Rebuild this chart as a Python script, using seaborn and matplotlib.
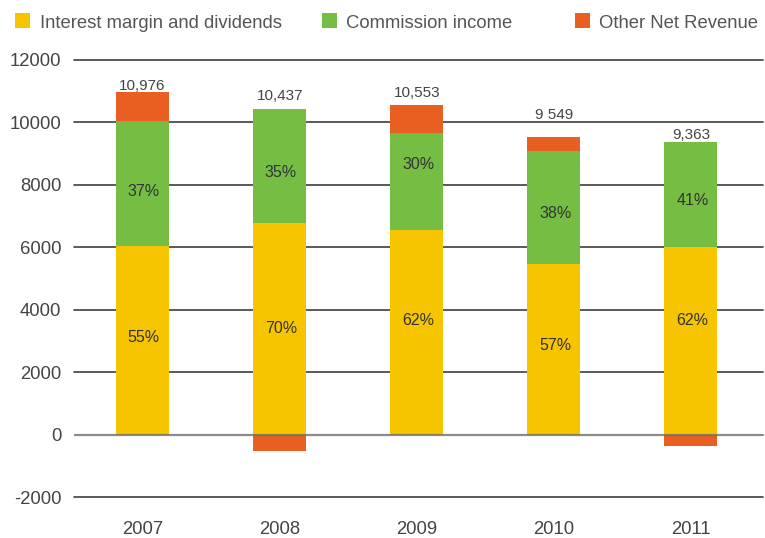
import matplotlib
matplotlib.use("Agg")
import matplotlib.pyplot as plt
from matplotlib.patches import Rectangle
import seaborn as sns
import pandas as pd

# Revenue breakdown by year
years = ["2007", "2008", "2009", "2010", "2011"]
interest = [6030, 6780, 6545, 5465, 6000]
commission = [4010, 3657, 3110, 3615, 3363]
other = [936, -535, 898, 469, -355]

total_labels = ["10,976", "10,437", "10,553", "9 549", "9,363"]
commission_pct = ["37%", "35%", "30%", "38%", "41%"]
interest_pct = ["55%", "70%", "62%", "57%", "62%"]

series_names = ["Interest margin and dividends", "Commission income", "Other Net Revenue"]
colors = ["#F6C500", "#76BE43", "#E85F21"]

# label placement (data units)
total_label_y = [11035, 10715, 10821, 10115, 9464]
commission_pct_y = [7650, 8261, 8510, 6924, 7364]
interest_pct_y = [2968, 3266, 3513, 2711, 3513]

sns.set_style("white")
plt.rcParams["font.family"] = ["Liberation Sans", "DejaVu Sans"]

W, H = 765, 538
fig = plt.figure(figsize=(W / 100, H / 100), dpi=100)
ax = fig.add_axes([74 / W, 1 - 497 / H, (W - 74) / W, (497 - 60) / H])

df = pd.DataFrame({"year": years, "interest": interest,
                   "commission": commission, "other": other})
# stacked layers drawn back to front: top of the stack first
df["top"] = [i + c + o if o > 0 else o for i, c, o in zip(interest, commission, other)]
df["mid"] = df["interest"] + df["commission"]

bar_w = 53 / 137.1
for col, color in [("top", colors[2]), ("mid", colors[1]), ("interest", colors[0])]:
    sns.barplot(data=df, x="year", y=col, color=color, saturation=1,
                width=bar_w, errorbar=None, linewidth=0, ax=ax, zorder=2)

yticks = list(range(-2000, 12001, 2000))
for y in yticks:
    if y == 0:
        continue
    ax.axhline(y, color="#4d4d4d", lw=1.3, zorder=0.5, clip_on=False,
               xmax=(763 - 74) / (W - 74))
ax.axhline(0, color="#6e6e6e", lw=1.6, alpha=0.8, zorder=3,
           xmax=(763 - 74) / (W - 74))

ax.set_ylim(-2000, 12000)
ax.set_xlim(-0.5, (W - 142.5) / 137.1)
ax.set_yticks(yticks)
ax.set_yticklabels([str(y) for y in yticks])
ax.set_xlabel("")
ax.set_ylabel("")
for s in ax.spines.values():
    s.set_visible(False)
ax.tick_params(axis="y", length=0, pad=9, labelsize=13.3, labelcolor="#444444")
ax.tick_params(axis="x", length=0, pad=17, labelsize=13.3, labelcolor="#444444")

for i in range(len(years)):
    ax.text(i, total_label_y[i], total_labels[i], ha="center", va="baseline",
            fontsize=11, color="#444444")
    ax.text(i + 0.01, commission_pct_y[i], commission_pct[i], ha="center",
            va="baseline", fontsize=11.5, color="#333333", zorder=4)
    ax.text(i + 0.01, interest_pct_y[i], interest_pct[i], ha="center",
            va="baseline", fontsize=11.5, color="#333333", zorder=4)

# legend row across the top
legend_items = [(15, 40), (322, 346), (575, 599)]
for (sq_x, tx_x), name, color in zip(legend_items, series_names, colors):
    fig.add_artist(Rectangle((sq_x / W, 1 - 28 / H), 15 / W, 15 / H,
                             transform=fig.transFigure, color=color, lw=0))
    fig.text(tx_x / W, 1 - 28 / H, name, ha="left", va="baseline",
             fontsize=13.3, color="#555555")

fig.savefig("out.png", dpi=100)
